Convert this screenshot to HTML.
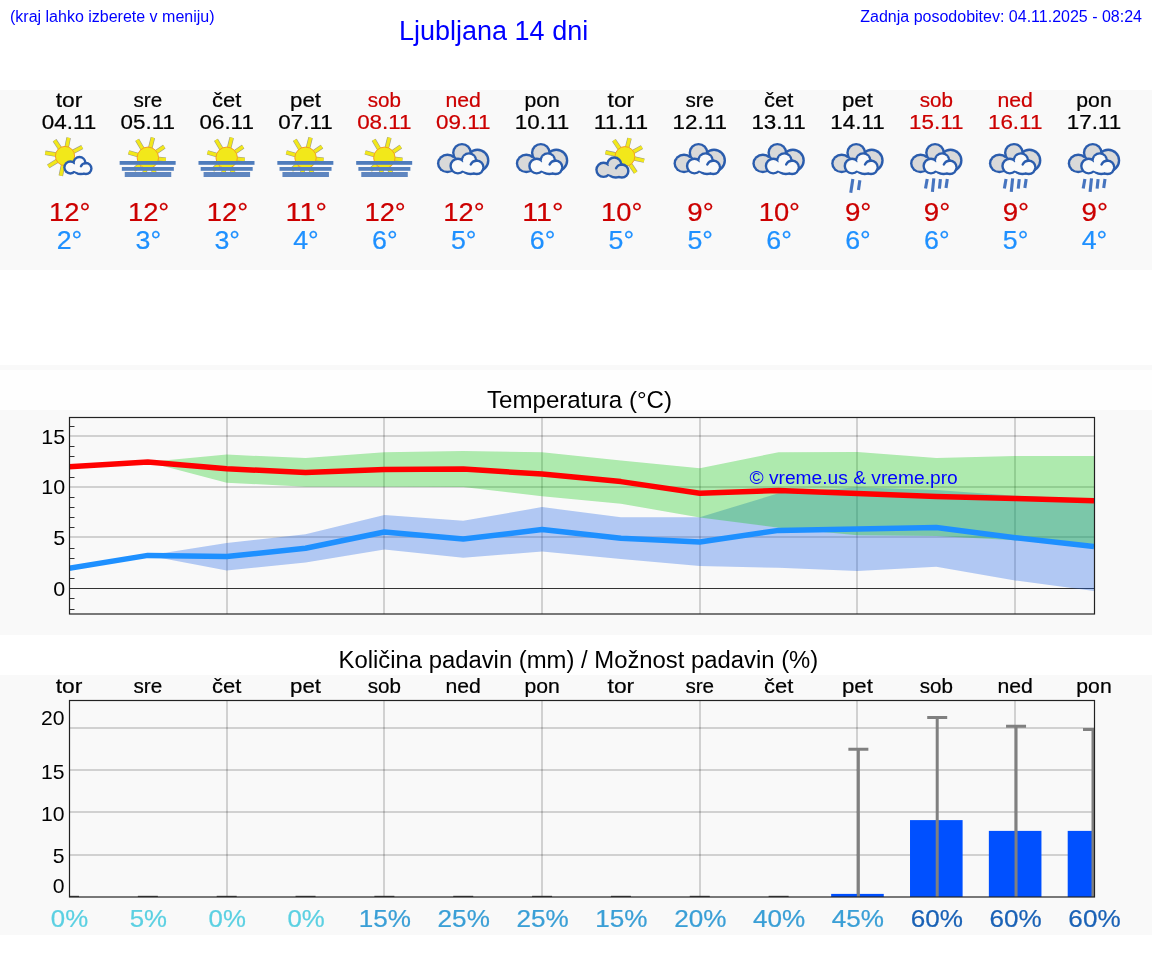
<!DOCTYPE html>
<html><head><meta charset="utf-8"><title>Ljubljana 14 dni</title>
<style>
html,body{margin:0;padding:0;background:#fff;width:1152px;height:975px;overflow:hidden}
svg{display:block;will-change:transform}
text{font-family:"Liberation Sans",sans-serif}
</style></head><body>
<svg width="1152" height="975" viewBox="0 0 1152 975">
<defs>
<clipPath id="cp1"><rect x="69.5" y="417.5" width="1024.5" height="196.5"/></clipPath>
<clipPath id="cp2"><rect x="69.5" y="700.5" width="1024.5" height="196.5"/></clipPath>
</defs>
<rect x="0" y="90" width="1152" height="180" fill="#f9f9f9"/>
<rect x="0" y="365" width="1152" height="5" fill="#f9f9f9"/>
<rect x="0" y="370" width="1152" height="40" fill="#fefefe"/>
<rect x="0" y="410" width="1152" height="225" fill="#f9f9f9"/>
<rect x="0" y="675" width="1152" height="260" fill="#f9f9f9"/>
<text x="10" y="21.5" font-size="16" fill="#0000ff">(kraj lahko izberete v meniju)</text>
<text x="399" y="39.5" font-size="27" fill="#0000ff">Ljubljana 14 dni</text>
<text x="1142" y="21.5" font-size="16" fill="#0000ff" text-anchor="end">Zadnja posodobitev: 04.11.2025 - 08:24</text>
<text x="69" y="106.8" font-size="19.8" fill="#000" stroke="#000" stroke-width="0.22" text-anchor="middle" textLength="26.61" lengthAdjust="spacingAndGlyphs">tor</text>
<text x="69" y="129" font-size="19.6" fill="#000" stroke="#000" stroke-width="0.22" text-anchor="middle" textLength="54.42" lengthAdjust="spacingAndGlyphs">04.11</text>
<text x="69.75" y="221" font-size="25" fill="#cc0000" stroke="#cc0000" stroke-width="0.22" text-anchor="middle" textLength="41.31" lengthAdjust="spacingAndGlyphs">12°</text>
<text x="69.5" y="248.6" font-size="25" fill="#1e90ff" stroke="#1e90ff" stroke-width="0.22" text-anchor="middle" textLength="25.56" lengthAdjust="spacingAndGlyphs">2°</text>
<text x="147.85" y="106.8" font-size="19.8" fill="#000" stroke="#000" stroke-width="0.22" text-anchor="middle" textLength="28.69" lengthAdjust="spacingAndGlyphs">sre</text>
<text x="147.85" y="129" font-size="19.6" fill="#000" stroke="#000" stroke-width="0.22" text-anchor="middle" textLength="54.42" lengthAdjust="spacingAndGlyphs">05.11</text>
<text x="148.6" y="221" font-size="25" fill="#cc0000" stroke="#cc0000" stroke-width="0.22" text-anchor="middle" textLength="41.31" lengthAdjust="spacingAndGlyphs">12°</text>
<text x="148.35" y="248.6" font-size="25" fill="#1e90ff" stroke="#1e90ff" stroke-width="0.22" text-anchor="middle" textLength="25.56" lengthAdjust="spacingAndGlyphs">3°</text>
<text x="226.69" y="106.8" font-size="19.8" fill="#000" stroke="#000" stroke-width="0.22" text-anchor="middle" textLength="29.27" lengthAdjust="spacingAndGlyphs">čet</text>
<text x="226.69" y="129" font-size="19.6" fill="#000" stroke="#000" stroke-width="0.22" text-anchor="middle" textLength="54.42" lengthAdjust="spacingAndGlyphs">06.11</text>
<text x="227.44" y="221" font-size="25" fill="#cc0000" stroke="#cc0000" stroke-width="0.22" text-anchor="middle" textLength="41.31" lengthAdjust="spacingAndGlyphs">12°</text>
<text x="227.19" y="248.6" font-size="25" fill="#1e90ff" stroke="#1e90ff" stroke-width="0.22" text-anchor="middle" textLength="25.56" lengthAdjust="spacingAndGlyphs">3°</text>
<text x="305.54" y="106.8" font-size="19.8" fill="#000" stroke="#000" stroke-width="0.22" text-anchor="middle" textLength="30.88" lengthAdjust="spacingAndGlyphs">pet</text>
<text x="305.54" y="129" font-size="19.6" fill="#000" stroke="#000" stroke-width="0.22" text-anchor="middle" textLength="54.42" lengthAdjust="spacingAndGlyphs">07.11</text>
<text x="306.29" y="221" font-size="25" fill="#cc0000" stroke="#cc0000" stroke-width="0.22" text-anchor="middle" textLength="41.31" lengthAdjust="spacingAndGlyphs">11°</text>
<text x="306.04" y="248.6" font-size="25" fill="#1e90ff" stroke="#1e90ff" stroke-width="0.22" text-anchor="middle" textLength="25.56" lengthAdjust="spacingAndGlyphs">4°</text>
<text x="384.38" y="106.8" font-size="19.8" fill="#cc0000" stroke="#cc0000" stroke-width="0.22" text-anchor="middle" textLength="33.23" lengthAdjust="spacingAndGlyphs">sob</text>
<text x="384.38" y="129" font-size="19.6" fill="#cc0000" stroke="#cc0000" stroke-width="0.22" text-anchor="middle" textLength="54.42" lengthAdjust="spacingAndGlyphs">08.11</text>
<text x="385.13" y="221" font-size="25" fill="#cc0000" stroke="#cc0000" stroke-width="0.22" text-anchor="middle" textLength="41.31" lengthAdjust="spacingAndGlyphs">12°</text>
<text x="384.88" y="248.6" font-size="25" fill="#1e90ff" stroke="#1e90ff" stroke-width="0.22" text-anchor="middle" textLength="25.56" lengthAdjust="spacingAndGlyphs">6°</text>
<text x="463.23" y="106.8" font-size="19.8" fill="#cc0000" stroke="#cc0000" stroke-width="0.22" text-anchor="middle" textLength="35.41" lengthAdjust="spacingAndGlyphs">ned</text>
<text x="463.23" y="129" font-size="19.6" fill="#cc0000" stroke="#cc0000" stroke-width="0.22" text-anchor="middle" textLength="54.42" lengthAdjust="spacingAndGlyphs">09.11</text>
<text x="463.98" y="221" font-size="25" fill="#cc0000" stroke="#cc0000" stroke-width="0.22" text-anchor="middle" textLength="41.31" lengthAdjust="spacingAndGlyphs">12°</text>
<text x="463.73" y="248.6" font-size="25" fill="#1e90ff" stroke="#1e90ff" stroke-width="0.22" text-anchor="middle" textLength="25.56" lengthAdjust="spacingAndGlyphs">5°</text>
<text x="542.08" y="106.8" font-size="19.8" fill="#000" stroke="#000" stroke-width="0.22" text-anchor="middle" textLength="35.34" lengthAdjust="spacingAndGlyphs">pon</text>
<text x="542.08" y="129" font-size="19.6" fill="#000" stroke="#000" stroke-width="0.22" text-anchor="middle" textLength="54.42" lengthAdjust="spacingAndGlyphs">10.11</text>
<text x="542.83" y="221" font-size="25" fill="#cc0000" stroke="#cc0000" stroke-width="0.22" text-anchor="middle" textLength="41.31" lengthAdjust="spacingAndGlyphs">11°</text>
<text x="542.58" y="248.6" font-size="25" fill="#1e90ff" stroke="#1e90ff" stroke-width="0.22" text-anchor="middle" textLength="25.56" lengthAdjust="spacingAndGlyphs">6°</text>
<text x="620.92" y="106.8" font-size="19.8" fill="#000" stroke="#000" stroke-width="0.22" text-anchor="middle" textLength="26.61" lengthAdjust="spacingAndGlyphs">tor</text>
<text x="620.92" y="129" font-size="19.6" fill="#000" stroke="#000" stroke-width="0.22" text-anchor="middle" textLength="54.42" lengthAdjust="spacingAndGlyphs">11.11</text>
<text x="621.67" y="221" font-size="25" fill="#cc0000" stroke="#cc0000" stroke-width="0.22" text-anchor="middle" textLength="41.31" lengthAdjust="spacingAndGlyphs">10°</text>
<text x="621.42" y="248.6" font-size="25" fill="#1e90ff" stroke="#1e90ff" stroke-width="0.22" text-anchor="middle" textLength="25.56" lengthAdjust="spacingAndGlyphs">5°</text>
<text x="699.77" y="106.8" font-size="19.8" fill="#000" stroke="#000" stroke-width="0.22" text-anchor="middle" textLength="28.69" lengthAdjust="spacingAndGlyphs">sre</text>
<text x="699.77" y="129" font-size="19.6" fill="#000" stroke="#000" stroke-width="0.22" text-anchor="middle" textLength="54.42" lengthAdjust="spacingAndGlyphs">12.11</text>
<text x="700.52" y="221" font-size="25" fill="#cc0000" stroke="#cc0000" stroke-width="0.22" text-anchor="middle" textLength="26.48" lengthAdjust="spacingAndGlyphs">9°</text>
<text x="700.27" y="248.6" font-size="25" fill="#1e90ff" stroke="#1e90ff" stroke-width="0.22" text-anchor="middle" textLength="25.56" lengthAdjust="spacingAndGlyphs">5°</text>
<text x="778.62" y="106.8" font-size="19.8" fill="#000" stroke="#000" stroke-width="0.22" text-anchor="middle" textLength="29.27" lengthAdjust="spacingAndGlyphs">čet</text>
<text x="778.62" y="129" font-size="19.6" fill="#000" stroke="#000" stroke-width="0.22" text-anchor="middle" textLength="54.42" lengthAdjust="spacingAndGlyphs">13.11</text>
<text x="779.37" y="221" font-size="25" fill="#cc0000" stroke="#cc0000" stroke-width="0.22" text-anchor="middle" textLength="41.31" lengthAdjust="spacingAndGlyphs">10°</text>
<text x="779.12" y="248.6" font-size="25" fill="#1e90ff" stroke="#1e90ff" stroke-width="0.22" text-anchor="middle" textLength="25.56" lengthAdjust="spacingAndGlyphs">6°</text>
<text x="857.46" y="106.8" font-size="19.8" fill="#000" stroke="#000" stroke-width="0.22" text-anchor="middle" textLength="30.88" lengthAdjust="spacingAndGlyphs">pet</text>
<text x="857.46" y="129" font-size="19.6" fill="#000" stroke="#000" stroke-width="0.22" text-anchor="middle" textLength="54.42" lengthAdjust="spacingAndGlyphs">14.11</text>
<text x="858.21" y="221" font-size="25" fill="#cc0000" stroke="#cc0000" stroke-width="0.22" text-anchor="middle" textLength="26.48" lengthAdjust="spacingAndGlyphs">9°</text>
<text x="857.96" y="248.6" font-size="25" fill="#1e90ff" stroke="#1e90ff" stroke-width="0.22" text-anchor="middle" textLength="25.56" lengthAdjust="spacingAndGlyphs">6°</text>
<text x="936.31" y="106.8" font-size="19.8" fill="#cc0000" stroke="#cc0000" stroke-width="0.22" text-anchor="middle" textLength="33.23" lengthAdjust="spacingAndGlyphs">sob</text>
<text x="936.31" y="129" font-size="19.6" fill="#cc0000" stroke="#cc0000" stroke-width="0.22" text-anchor="middle" textLength="54.42" lengthAdjust="spacingAndGlyphs">15.11</text>
<text x="937.06" y="221" font-size="25" fill="#cc0000" stroke="#cc0000" stroke-width="0.22" text-anchor="middle" textLength="26.48" lengthAdjust="spacingAndGlyphs">9°</text>
<text x="936.81" y="248.6" font-size="25" fill="#1e90ff" stroke="#1e90ff" stroke-width="0.22" text-anchor="middle" textLength="25.56" lengthAdjust="spacingAndGlyphs">6°</text>
<text x="1015.15" y="106.8" font-size="19.8" fill="#cc0000" stroke="#cc0000" stroke-width="0.22" text-anchor="middle" textLength="35.41" lengthAdjust="spacingAndGlyphs">ned</text>
<text x="1015.15" y="129" font-size="19.6" fill="#cc0000" stroke="#cc0000" stroke-width="0.22" text-anchor="middle" textLength="54.42" lengthAdjust="spacingAndGlyphs">16.11</text>
<text x="1015.9" y="221" font-size="25" fill="#cc0000" stroke="#cc0000" stroke-width="0.22" text-anchor="middle" textLength="26.48" lengthAdjust="spacingAndGlyphs">9°</text>
<text x="1015.65" y="248.6" font-size="25" fill="#1e90ff" stroke="#1e90ff" stroke-width="0.22" text-anchor="middle" textLength="25.56" lengthAdjust="spacingAndGlyphs">5°</text>
<text x="1094" y="106.8" font-size="19.8" fill="#000" stroke="#000" stroke-width="0.22" text-anchor="middle" textLength="35.34" lengthAdjust="spacingAndGlyphs">pon</text>
<text x="1094" y="129" font-size="19.6" fill="#000" stroke="#000" stroke-width="0.22" text-anchor="middle" textLength="54.42" lengthAdjust="spacingAndGlyphs">17.11</text>
<text x="1094.75" y="221" font-size="25" fill="#cc0000" stroke="#cc0000" stroke-width="0.22" text-anchor="middle" textLength="26.48" lengthAdjust="spacingAndGlyphs">9°</text>
<text x="1094.5" y="248.6" font-size="25" fill="#1e90ff" stroke="#1e90ff" stroke-width="0.22" text-anchor="middle" textLength="25.56" lengthAdjust="spacingAndGlyphs">4°</text>
<line x1="65" y1="156" x2="68.6" y2="137.7" stroke="#86866e" stroke-width="4.5" stroke-opacity="0.8"/><line x1="65" y1="156" x2="54.6" y2="140.3" stroke="#86866e" stroke-width="4.5" stroke-opacity="0.8"/><line x1="65" y1="156" x2="45.2" y2="152.8" stroke="#86866e" stroke-width="4.5" stroke-opacity="0.8"/><line x1="65" y1="156" x2="48.3" y2="166.4" stroke="#86866e" stroke-width="4.5" stroke-opacity="0.8"/><line x1="65" y1="156" x2="60.8" y2="175.75" stroke="#86866e" stroke-width="4.5" stroke-opacity="0.8"/><line x1="65" y1="156" x2="82.2" y2="147.1" stroke="#86866e" stroke-width="4.5" stroke-opacity="0.8"/><line x1="65" y1="156" x2="68.6" y2="137.7" stroke="#f2e81a" stroke-width="3.3"/><line x1="65" y1="156" x2="54.6" y2="140.3" stroke="#f2e81a" stroke-width="3.3"/><line x1="65" y1="156" x2="45.2" y2="152.8" stroke="#f2e81a" stroke-width="3.3"/><line x1="65" y1="156" x2="48.3" y2="166.4" stroke="#f2e81a" stroke-width="3.3"/><line x1="65" y1="156" x2="60.8" y2="175.75" stroke="#f2e81a" stroke-width="3.3"/><line x1="65" y1="156" x2="82.2" y2="147.1" stroke="#f2e81a" stroke-width="3.3"/><circle cx="65" cy="156" r="9.6" fill="#f2e81a" stroke="#f5a020" stroke-width="1"/>
<g transform="translate(77.85 165.7) scale(0.82)"><circle cx="-9.1" cy="2.15" r="8.76" fill="#2a5cad"/><circle cx="2" cy="-3.35" r="8.66" fill="#2a5cad"/><circle cx="9.8" cy="3.35" r="8.16" fill="#2a5cad"/><ellipse cx="3.5" cy="5.2" rx="8.96" ry="6.36" fill="#2a5cad"/><circle cx="-9.1" cy="2.15" r="5.84" fill="#fafafa"/><circle cx="2" cy="-3.35" r="5.74" fill="#fafafa"/><circle cx="9.8" cy="3.35" r="5.24" fill="#fafafa"/><ellipse cx="3.5" cy="5.2" rx="6.04" ry="3.44" fill="#fafafa"/><ellipse cx="1.5" cy="2.5" rx="9.5" ry="5.2" fill="#fafafa"/><path d="M3.8 0.55A6.6 6.6 0 0 1 10.2 -3.15" fill="none" stroke="#2a5cad" stroke-width="2.93" stroke-linecap="round"/></g>
<line x1="147.85" y1="157.8" x2="152.85" y2="137.6" stroke="#86866e" stroke-width="4.5" stroke-opacity="0.8"/><line x1="147.85" y1="157.8" x2="137.15" y2="139.9" stroke="#86866e" stroke-width="4.5" stroke-opacity="0.8"/><line x1="147.85" y1="157.8" x2="128.65" y2="152.3" stroke="#86866e" stroke-width="4.5" stroke-opacity="0.8"/><line x1="147.85" y1="157.8" x2="164.25" y2="146.7" stroke="#86866e" stroke-width="4.5" stroke-opacity="0.8"/><line x1="147.85" y1="157.8" x2="165.85" y2="159.7" stroke="#86866e" stroke-width="4.5" stroke-opacity="0.8"/><line x1="147.85" y1="157.8" x2="133.85" y2="170" stroke="#86866e" stroke-width="4.5" stroke-opacity="0.8"/><line x1="147.85" y1="157.8" x2="155.85" y2="176" stroke="#86866e" stroke-width="4.5" stroke-opacity="0.8"/><line x1="147.85" y1="157.8" x2="143.85" y2="176" stroke="#86866e" stroke-width="4.5" stroke-opacity="0.8"/><line x1="147.85" y1="157.8" x2="152.85" y2="137.6" stroke="#f2e81a" stroke-width="3.3"/><line x1="147.85" y1="157.8" x2="137.15" y2="139.9" stroke="#f2e81a" stroke-width="3.3"/><line x1="147.85" y1="157.8" x2="128.65" y2="152.3" stroke="#f2e81a" stroke-width="3.3"/><line x1="147.85" y1="157.8" x2="164.25" y2="146.7" stroke="#f2e81a" stroke-width="3.3"/><line x1="147.85" y1="157.8" x2="165.85" y2="159.7" stroke="#f2e81a" stroke-width="3.3"/><line x1="147.85" y1="157.8" x2="133.85" y2="170" stroke="#f2e81a" stroke-width="3.3"/><line x1="147.85" y1="157.8" x2="155.85" y2="176" stroke="#f2e81a" stroke-width="3.3"/><line x1="147.85" y1="157.8" x2="143.85" y2="176" stroke="#f2e81a" stroke-width="3.3"/><circle cx="147.85" cy="157.8" r="10.7" fill="#f2e81a" stroke="#f5a020" stroke-width="1"/><rect x="119.65" y="161" width="56" height="3.8" fill="#4f7cbc"/><rect x="121.85" y="167" width="52" height="3.8" fill="#5580be"/><rect x="124.75" y="172" width="46.5" height="5" fill="#5f86c0"/>
<line x1="226.69" y1="157.8" x2="231.69" y2="137.6" stroke="#86866e" stroke-width="4.5" stroke-opacity="0.8"/><line x1="226.69" y1="157.8" x2="215.99" y2="139.9" stroke="#86866e" stroke-width="4.5" stroke-opacity="0.8"/><line x1="226.69" y1="157.8" x2="207.49" y2="152.3" stroke="#86866e" stroke-width="4.5" stroke-opacity="0.8"/><line x1="226.69" y1="157.8" x2="243.09" y2="146.7" stroke="#86866e" stroke-width="4.5" stroke-opacity="0.8"/><line x1="226.69" y1="157.8" x2="244.69" y2="159.7" stroke="#86866e" stroke-width="4.5" stroke-opacity="0.8"/><line x1="226.69" y1="157.8" x2="212.69" y2="170" stroke="#86866e" stroke-width="4.5" stroke-opacity="0.8"/><line x1="226.69" y1="157.8" x2="234.69" y2="176" stroke="#86866e" stroke-width="4.5" stroke-opacity="0.8"/><line x1="226.69" y1="157.8" x2="222.69" y2="176" stroke="#86866e" stroke-width="4.5" stroke-opacity="0.8"/><line x1="226.69" y1="157.8" x2="231.69" y2="137.6" stroke="#f2e81a" stroke-width="3.3"/><line x1="226.69" y1="157.8" x2="215.99" y2="139.9" stroke="#f2e81a" stroke-width="3.3"/><line x1="226.69" y1="157.8" x2="207.49" y2="152.3" stroke="#f2e81a" stroke-width="3.3"/><line x1="226.69" y1="157.8" x2="243.09" y2="146.7" stroke="#f2e81a" stroke-width="3.3"/><line x1="226.69" y1="157.8" x2="244.69" y2="159.7" stroke="#f2e81a" stroke-width="3.3"/><line x1="226.69" y1="157.8" x2="212.69" y2="170" stroke="#f2e81a" stroke-width="3.3"/><line x1="226.69" y1="157.8" x2="234.69" y2="176" stroke="#f2e81a" stroke-width="3.3"/><line x1="226.69" y1="157.8" x2="222.69" y2="176" stroke="#f2e81a" stroke-width="3.3"/><circle cx="226.69" cy="157.8" r="10.7" fill="#f2e81a" stroke="#f5a020" stroke-width="1"/><rect x="198.49" y="161" width="56" height="3.8" fill="#4f7cbc"/><rect x="200.69" y="167" width="52" height="3.8" fill="#5580be"/><rect x="203.59" y="172" width="46.5" height="5" fill="#5f86c0"/>
<line x1="305.54" y1="157.8" x2="310.54" y2="137.6" stroke="#86866e" stroke-width="4.5" stroke-opacity="0.8"/><line x1="305.54" y1="157.8" x2="294.84" y2="139.9" stroke="#86866e" stroke-width="4.5" stroke-opacity="0.8"/><line x1="305.54" y1="157.8" x2="286.34" y2="152.3" stroke="#86866e" stroke-width="4.5" stroke-opacity="0.8"/><line x1="305.54" y1="157.8" x2="321.94" y2="146.7" stroke="#86866e" stroke-width="4.5" stroke-opacity="0.8"/><line x1="305.54" y1="157.8" x2="323.54" y2="159.7" stroke="#86866e" stroke-width="4.5" stroke-opacity="0.8"/><line x1="305.54" y1="157.8" x2="291.54" y2="170" stroke="#86866e" stroke-width="4.5" stroke-opacity="0.8"/><line x1="305.54" y1="157.8" x2="313.54" y2="176" stroke="#86866e" stroke-width="4.5" stroke-opacity="0.8"/><line x1="305.54" y1="157.8" x2="301.54" y2="176" stroke="#86866e" stroke-width="4.5" stroke-opacity="0.8"/><line x1="305.54" y1="157.8" x2="310.54" y2="137.6" stroke="#f2e81a" stroke-width="3.3"/><line x1="305.54" y1="157.8" x2="294.84" y2="139.9" stroke="#f2e81a" stroke-width="3.3"/><line x1="305.54" y1="157.8" x2="286.34" y2="152.3" stroke="#f2e81a" stroke-width="3.3"/><line x1="305.54" y1="157.8" x2="321.94" y2="146.7" stroke="#f2e81a" stroke-width="3.3"/><line x1="305.54" y1="157.8" x2="323.54" y2="159.7" stroke="#f2e81a" stroke-width="3.3"/><line x1="305.54" y1="157.8" x2="291.54" y2="170" stroke="#f2e81a" stroke-width="3.3"/><line x1="305.54" y1="157.8" x2="313.54" y2="176" stroke="#f2e81a" stroke-width="3.3"/><line x1="305.54" y1="157.8" x2="301.54" y2="176" stroke="#f2e81a" stroke-width="3.3"/><circle cx="305.54" cy="157.8" r="10.7" fill="#f2e81a" stroke="#f5a020" stroke-width="1"/><rect x="277.34" y="161" width="56" height="3.8" fill="#4f7cbc"/><rect x="279.54" y="167" width="52" height="3.8" fill="#5580be"/><rect x="282.44" y="172" width="46.5" height="5" fill="#5f86c0"/>
<line x1="384.38" y1="157.8" x2="389.38" y2="137.6" stroke="#86866e" stroke-width="4.5" stroke-opacity="0.8"/><line x1="384.38" y1="157.8" x2="373.68" y2="139.9" stroke="#86866e" stroke-width="4.5" stroke-opacity="0.8"/><line x1="384.38" y1="157.8" x2="365.18" y2="152.3" stroke="#86866e" stroke-width="4.5" stroke-opacity="0.8"/><line x1="384.38" y1="157.8" x2="400.78" y2="146.7" stroke="#86866e" stroke-width="4.5" stroke-opacity="0.8"/><line x1="384.38" y1="157.8" x2="402.38" y2="159.7" stroke="#86866e" stroke-width="4.5" stroke-opacity="0.8"/><line x1="384.38" y1="157.8" x2="370.38" y2="170" stroke="#86866e" stroke-width="4.5" stroke-opacity="0.8"/><line x1="384.38" y1="157.8" x2="392.38" y2="176" stroke="#86866e" stroke-width="4.5" stroke-opacity="0.8"/><line x1="384.38" y1="157.8" x2="380.38" y2="176" stroke="#86866e" stroke-width="4.5" stroke-opacity="0.8"/><line x1="384.38" y1="157.8" x2="389.38" y2="137.6" stroke="#f2e81a" stroke-width="3.3"/><line x1="384.38" y1="157.8" x2="373.68" y2="139.9" stroke="#f2e81a" stroke-width="3.3"/><line x1="384.38" y1="157.8" x2="365.18" y2="152.3" stroke="#f2e81a" stroke-width="3.3"/><line x1="384.38" y1="157.8" x2="400.78" y2="146.7" stroke="#f2e81a" stroke-width="3.3"/><line x1="384.38" y1="157.8" x2="402.38" y2="159.7" stroke="#f2e81a" stroke-width="3.3"/><line x1="384.38" y1="157.8" x2="370.38" y2="170" stroke="#f2e81a" stroke-width="3.3"/><line x1="384.38" y1="157.8" x2="392.38" y2="176" stroke="#f2e81a" stroke-width="3.3"/><line x1="384.38" y1="157.8" x2="380.38" y2="176" stroke="#f2e81a" stroke-width="3.3"/><circle cx="384.38" cy="157.8" r="10.7" fill="#f2e81a" stroke="#f5a020" stroke-width="1"/><rect x="356.18" y="161" width="56" height="3.8" fill="#4f7cbc"/><rect x="358.38" y="167" width="52" height="3.8" fill="#5580be"/><rect x="361.28" y="172" width="46.5" height="5" fill="#5f86c0"/>
<g transform="translate(466.96 163.95)"><ellipse cx="-19.5" cy="-0.55" rx="10.5" ry="9.8" fill="#2a5cad"/><circle cx="-5" cy="-11.15" r="9.9" fill="#2a5cad"/><circle cx="10.5" cy="-3.45" r="12" fill="#2a5cad"/><ellipse cx="-19.5" cy="-0.55" rx="8.1" ry="7.4" fill="#d9d9d9"/><circle cx="-5" cy="-11.15" r="7.5" fill="#d9d9d9"/><circle cx="10.5" cy="-3.45" r="9.6" fill="#d9d9d9"/><rect x="-20" y="-6" width="31" height="10" fill="#d9d9d9"/></g><g transform="translate(466.96 163.95) scale(1)"><circle cx="-9.1" cy="2.15" r="8.5" fill="#2a5cad"/><circle cx="2" cy="-3.35" r="8.4" fill="#2a5cad"/><circle cx="9.8" cy="3.35" r="7.9" fill="#2a5cad"/><ellipse cx="3.5" cy="5.2" rx="8.7" ry="6.1" fill="#2a5cad"/><circle cx="-9.1" cy="2.15" r="6.1" fill="#fafafa"/><circle cx="2" cy="-3.35" r="6" fill="#fafafa"/><circle cx="9.8" cy="3.35" r="5.5" fill="#fafafa"/><ellipse cx="3.5" cy="5.2" rx="6.3" ry="3.7" fill="#fafafa"/><ellipse cx="1.5" cy="2.5" rx="9.5" ry="5.2" fill="#fafafa"/><path d="M3.8 0.55A6.6 6.6 0 0 1 10.2 -3.15" fill="none" stroke="#2a5cad" stroke-width="2.4" stroke-linecap="round"/></g>
<g transform="translate(545.81 163.95)"><ellipse cx="-19.5" cy="-0.55" rx="10.5" ry="9.8" fill="#2a5cad"/><circle cx="-5" cy="-11.15" r="9.9" fill="#2a5cad"/><circle cx="10.5" cy="-3.45" r="12" fill="#2a5cad"/><ellipse cx="-19.5" cy="-0.55" rx="8.1" ry="7.4" fill="#d9d9d9"/><circle cx="-5" cy="-11.15" r="7.5" fill="#d9d9d9"/><circle cx="10.5" cy="-3.45" r="9.6" fill="#d9d9d9"/><rect x="-20" y="-6" width="31" height="10" fill="#d9d9d9"/></g><g transform="translate(545.81 163.95) scale(1)"><circle cx="-9.1" cy="2.15" r="8.5" fill="#2a5cad"/><circle cx="2" cy="-3.35" r="8.4" fill="#2a5cad"/><circle cx="9.8" cy="3.35" r="7.9" fill="#2a5cad"/><ellipse cx="3.5" cy="5.2" rx="8.7" ry="6.1" fill="#2a5cad"/><circle cx="-9.1" cy="2.15" r="6.1" fill="#fafafa"/><circle cx="2" cy="-3.35" r="6" fill="#fafafa"/><circle cx="9.8" cy="3.35" r="5.5" fill="#fafafa"/><ellipse cx="3.5" cy="5.2" rx="6.3" ry="3.7" fill="#fafafa"/><ellipse cx="1.5" cy="2.5" rx="9.5" ry="5.2" fill="#fafafa"/><path d="M3.8 0.55A6.6 6.6 0 0 1 10.2 -3.15" fill="none" stroke="#2a5cad" stroke-width="2.4" stroke-linecap="round"/></g>
<line x1="624.92" y1="156.5" x2="629.52" y2="138.25" stroke="#86866e" stroke-width="4.5" stroke-opacity="0.8"/><line x1="624.92" y1="156.5" x2="613.92" y2="140.3" stroke="#86866e" stroke-width="4.5" stroke-opacity="0.8"/><line x1="624.92" y1="156.5" x2="605.52" y2="152.3" stroke="#86866e" stroke-width="4.5" stroke-opacity="0.8"/><line x1="624.92" y1="156.5" x2="641.92" y2="147.1" stroke="#86866e" stroke-width="4.5" stroke-opacity="0.8"/><line x1="624.92" y1="156.5" x2="644.12" y2="160.6" stroke="#86866e" stroke-width="4.5" stroke-opacity="0.8"/><line x1="624.92" y1="156.5" x2="635.72" y2="172.6" stroke="#86866e" stroke-width="4.5" stroke-opacity="0.8"/><line x1="624.92" y1="156.5" x2="629.52" y2="138.25" stroke="#f2e81a" stroke-width="3.3"/><line x1="624.92" y1="156.5" x2="613.92" y2="140.3" stroke="#f2e81a" stroke-width="3.3"/><line x1="624.92" y1="156.5" x2="605.52" y2="152.3" stroke="#f2e81a" stroke-width="3.3"/><line x1="624.92" y1="156.5" x2="641.92" y2="147.1" stroke="#f2e81a" stroke-width="3.3"/><line x1="624.92" y1="156.5" x2="644.12" y2="160.6" stroke="#f2e81a" stroke-width="3.3"/><line x1="624.92" y1="156.5" x2="635.72" y2="172.6" stroke="#f2e81a" stroke-width="3.3"/><circle cx="624.92" cy="156.5" r="9.9" fill="#f2e81a" stroke="#f5a020" stroke-width="1"/>
<g transform="translate(612.35 167.75) scale(0.97)"><circle cx="-9.1" cy="2.15" r="8.54" fill="#2a5cad"/><circle cx="2" cy="-3.35" r="8.44" fill="#2a5cad"/><circle cx="9.8" cy="3.35" r="7.94" fill="#2a5cad"/><ellipse cx="3.5" cy="5.2" rx="8.74" ry="6.14" fill="#2a5cad"/><circle cx="-9.1" cy="2.15" r="6.06" fill="#d9d9d9"/><circle cx="2" cy="-3.35" r="5.96" fill="#d9d9d9"/><circle cx="9.8" cy="3.35" r="5.46" fill="#d9d9d9"/><ellipse cx="3.5" cy="5.2" rx="6.26" ry="3.66" fill="#d9d9d9"/><ellipse cx="1.5" cy="2.5" rx="9.5" ry="5.2" fill="#d9d9d9"/><path d="M3.8 0.55A6.6 6.6 0 0 1 10.2 -3.15" fill="none" stroke="#2a5cad" stroke-width="2.47" stroke-linecap="round"/></g>
<g transform="translate(703.5 163.95)"><ellipse cx="-19.5" cy="-0.55" rx="10.5" ry="9.8" fill="#2a5cad"/><circle cx="-5" cy="-11.15" r="9.9" fill="#2a5cad"/><circle cx="10.5" cy="-3.45" r="12" fill="#2a5cad"/><ellipse cx="-19.5" cy="-0.55" rx="8.1" ry="7.4" fill="#d9d9d9"/><circle cx="-5" cy="-11.15" r="7.5" fill="#d9d9d9"/><circle cx="10.5" cy="-3.45" r="9.6" fill="#d9d9d9"/><rect x="-20" y="-6" width="31" height="10" fill="#d9d9d9"/></g><g transform="translate(703.5 163.95) scale(1)"><circle cx="-9.1" cy="2.15" r="8.5" fill="#2a5cad"/><circle cx="2" cy="-3.35" r="8.4" fill="#2a5cad"/><circle cx="9.8" cy="3.35" r="7.9" fill="#2a5cad"/><ellipse cx="3.5" cy="5.2" rx="8.7" ry="6.1" fill="#2a5cad"/><circle cx="-9.1" cy="2.15" r="6.1" fill="#fafafa"/><circle cx="2" cy="-3.35" r="6" fill="#fafafa"/><circle cx="9.8" cy="3.35" r="5.5" fill="#fafafa"/><ellipse cx="3.5" cy="5.2" rx="6.3" ry="3.7" fill="#fafafa"/><ellipse cx="1.5" cy="2.5" rx="9.5" ry="5.2" fill="#fafafa"/><path d="M3.8 0.55A6.6 6.6 0 0 1 10.2 -3.15" fill="none" stroke="#2a5cad" stroke-width="2.4" stroke-linecap="round"/></g>
<g transform="translate(782.35 163.95)"><ellipse cx="-19.5" cy="-0.55" rx="10.5" ry="9.8" fill="#2a5cad"/><circle cx="-5" cy="-11.15" r="9.9" fill="#2a5cad"/><circle cx="10.5" cy="-3.45" r="12" fill="#2a5cad"/><ellipse cx="-19.5" cy="-0.55" rx="8.1" ry="7.4" fill="#d9d9d9"/><circle cx="-5" cy="-11.15" r="7.5" fill="#d9d9d9"/><circle cx="10.5" cy="-3.45" r="9.6" fill="#d9d9d9"/><rect x="-20" y="-6" width="31" height="10" fill="#d9d9d9"/></g><g transform="translate(782.35 163.95) scale(1)"><circle cx="-9.1" cy="2.15" r="8.5" fill="#2a5cad"/><circle cx="2" cy="-3.35" r="8.4" fill="#2a5cad"/><circle cx="9.8" cy="3.35" r="7.9" fill="#2a5cad"/><ellipse cx="3.5" cy="5.2" rx="8.7" ry="6.1" fill="#2a5cad"/><circle cx="-9.1" cy="2.15" r="6.1" fill="#fafafa"/><circle cx="2" cy="-3.35" r="6" fill="#fafafa"/><circle cx="9.8" cy="3.35" r="5.5" fill="#fafafa"/><ellipse cx="3.5" cy="5.2" rx="6.3" ry="3.7" fill="#fafafa"/><ellipse cx="1.5" cy="2.5" rx="9.5" ry="5.2" fill="#fafafa"/><path d="M3.8 0.55A6.6 6.6 0 0 1 10.2 -3.15" fill="none" stroke="#2a5cad" stroke-width="2.4" stroke-linecap="round"/></g>
<g transform="translate(861.19 163.95)"><ellipse cx="-19.5" cy="-0.55" rx="10.5" ry="9.8" fill="#2a5cad"/><circle cx="-5" cy="-11.15" r="9.9" fill="#2a5cad"/><circle cx="10.5" cy="-3.45" r="12" fill="#2a5cad"/><ellipse cx="-19.5" cy="-0.55" rx="8.1" ry="7.4" fill="#d9d9d9"/><circle cx="-5" cy="-11.15" r="7.5" fill="#d9d9d9"/><circle cx="10.5" cy="-3.45" r="9.6" fill="#d9d9d9"/><rect x="-20" y="-6" width="31" height="10" fill="#d9d9d9"/></g><g transform="translate(861.19 163.95) scale(1)"><circle cx="-9.1" cy="2.15" r="8.5" fill="#2a5cad"/><circle cx="2" cy="-3.35" r="8.4" fill="#2a5cad"/><circle cx="9.8" cy="3.35" r="7.9" fill="#2a5cad"/><ellipse cx="3.5" cy="5.2" rx="8.7" ry="6.1" fill="#2a5cad"/><circle cx="-9.1" cy="2.15" r="6.1" fill="#fafafa"/><circle cx="2" cy="-3.35" r="6" fill="#fafafa"/><circle cx="9.8" cy="3.35" r="5.5" fill="#fafafa"/><ellipse cx="3.5" cy="5.2" rx="6.3" ry="3.7" fill="#fafafa"/><ellipse cx="1.5" cy="2.5" rx="9.5" ry="5.2" fill="#fafafa"/><path d="M3.8 0.55A6.6 6.6 0 0 1 10.2 -3.15" fill="none" stroke="#2a5cad" stroke-width="2.4" stroke-linecap="round"/></g><line x1="852.86" y1="179.1" x2="850.76" y2="192.8" stroke="#4674bf" stroke-width="3.1"/><line x1="859.86" y1="180.2" x2="858.46" y2="190" stroke="#4674bf" stroke-width="3.1"/>
<g transform="translate(940.04 163.95)"><ellipse cx="-19.5" cy="-0.55" rx="10.5" ry="9.8" fill="#2a5cad"/><circle cx="-5" cy="-11.15" r="9.9" fill="#2a5cad"/><circle cx="10.5" cy="-3.45" r="12" fill="#2a5cad"/><ellipse cx="-19.5" cy="-0.55" rx="8.1" ry="7.4" fill="#d9d9d9"/><circle cx="-5" cy="-11.15" r="7.5" fill="#d9d9d9"/><circle cx="10.5" cy="-3.45" r="9.6" fill="#d9d9d9"/><rect x="-20" y="-6" width="31" height="10" fill="#d9d9d9"/></g><g transform="translate(940.04 163.95) scale(1)"><circle cx="-9.1" cy="2.15" r="8.5" fill="#2a5cad"/><circle cx="2" cy="-3.35" r="8.4" fill="#2a5cad"/><circle cx="9.8" cy="3.35" r="7.9" fill="#2a5cad"/><ellipse cx="3.5" cy="5.2" rx="8.7" ry="6.1" fill="#2a5cad"/><circle cx="-9.1" cy="2.15" r="6.1" fill="#fafafa"/><circle cx="2" cy="-3.35" r="6" fill="#fafafa"/><circle cx="9.8" cy="3.35" r="5.5" fill="#fafafa"/><ellipse cx="3.5" cy="5.2" rx="6.3" ry="3.7" fill="#fafafa"/><ellipse cx="1.5" cy="2.5" rx="9.5" ry="5.2" fill="#fafafa"/><path d="M3.8 0.55A6.6 6.6 0 0 1 10.2 -3.15" fill="none" stroke="#2a5cad" stroke-width="2.4" stroke-linecap="round"/></g><line x1="927.21" y1="179.1" x2="925.51" y2="188.6" stroke="#4674bf" stroke-width="3.1"/><line x1="933.81" y1="178.4" x2="932.41" y2="191.8" stroke="#4674bf" stroke-width="3.1"/><line x1="940.41" y1="179.1" x2="939.41" y2="188.6" stroke="#4674bf" stroke-width="3.1"/><line x1="947.31" y1="179.1" x2="946.01" y2="187.95" stroke="#4674bf" stroke-width="3.1"/>
<g transform="translate(1018.88 163.95)"><ellipse cx="-19.5" cy="-0.55" rx="10.5" ry="9.8" fill="#2a5cad"/><circle cx="-5" cy="-11.15" r="9.9" fill="#2a5cad"/><circle cx="10.5" cy="-3.45" r="12" fill="#2a5cad"/><ellipse cx="-19.5" cy="-0.55" rx="8.1" ry="7.4" fill="#d9d9d9"/><circle cx="-5" cy="-11.15" r="7.5" fill="#d9d9d9"/><circle cx="10.5" cy="-3.45" r="9.6" fill="#d9d9d9"/><rect x="-20" y="-6" width="31" height="10" fill="#d9d9d9"/></g><g transform="translate(1018.88 163.95) scale(1)"><circle cx="-9.1" cy="2.15" r="8.5" fill="#2a5cad"/><circle cx="2" cy="-3.35" r="8.4" fill="#2a5cad"/><circle cx="9.8" cy="3.35" r="7.9" fill="#2a5cad"/><ellipse cx="3.5" cy="5.2" rx="8.7" ry="6.1" fill="#2a5cad"/><circle cx="-9.1" cy="2.15" r="6.1" fill="#fafafa"/><circle cx="2" cy="-3.35" r="6" fill="#fafafa"/><circle cx="9.8" cy="3.35" r="5.5" fill="#fafafa"/><ellipse cx="3.5" cy="5.2" rx="6.3" ry="3.7" fill="#fafafa"/><ellipse cx="1.5" cy="2.5" rx="9.5" ry="5.2" fill="#fafafa"/><path d="M3.8 0.55A6.6 6.6 0 0 1 10.2 -3.15" fill="none" stroke="#2a5cad" stroke-width="2.4" stroke-linecap="round"/></g><line x1="1006.05" y1="179.1" x2="1004.35" y2="188.6" stroke="#4674bf" stroke-width="3.1"/><line x1="1012.65" y1="178.4" x2="1011.25" y2="191.8" stroke="#4674bf" stroke-width="3.1"/><line x1="1019.25" y1="179.1" x2="1018.25" y2="188.6" stroke="#4674bf" stroke-width="3.1"/><line x1="1026.15" y1="179.1" x2="1024.85" y2="187.95" stroke="#4674bf" stroke-width="3.1"/>
<g transform="translate(1097.73 163.95)"><ellipse cx="-19.5" cy="-0.55" rx="10.5" ry="9.8" fill="#2a5cad"/><circle cx="-5" cy="-11.15" r="9.9" fill="#2a5cad"/><circle cx="10.5" cy="-3.45" r="12" fill="#2a5cad"/><ellipse cx="-19.5" cy="-0.55" rx="8.1" ry="7.4" fill="#d9d9d9"/><circle cx="-5" cy="-11.15" r="7.5" fill="#d9d9d9"/><circle cx="10.5" cy="-3.45" r="9.6" fill="#d9d9d9"/><rect x="-20" y="-6" width="31" height="10" fill="#d9d9d9"/></g><g transform="translate(1097.73 163.95) scale(1)"><circle cx="-9.1" cy="2.15" r="8.5" fill="#2a5cad"/><circle cx="2" cy="-3.35" r="8.4" fill="#2a5cad"/><circle cx="9.8" cy="3.35" r="7.9" fill="#2a5cad"/><ellipse cx="3.5" cy="5.2" rx="8.7" ry="6.1" fill="#2a5cad"/><circle cx="-9.1" cy="2.15" r="6.1" fill="#fafafa"/><circle cx="2" cy="-3.35" r="6" fill="#fafafa"/><circle cx="9.8" cy="3.35" r="5.5" fill="#fafafa"/><ellipse cx="3.5" cy="5.2" rx="6.3" ry="3.7" fill="#fafafa"/><ellipse cx="1.5" cy="2.5" rx="9.5" ry="5.2" fill="#fafafa"/><path d="M3.8 0.55A6.6 6.6 0 0 1 10.2 -3.15" fill="none" stroke="#2a5cad" stroke-width="2.4" stroke-linecap="round"/></g><line x1="1084.9" y1="179.1" x2="1083.2" y2="188.6" stroke="#4674bf" stroke-width="3.1"/><line x1="1091.5" y1="178.4" x2="1090.1" y2="191.8" stroke="#4674bf" stroke-width="3.1"/><line x1="1098.1" y1="179.1" x2="1097.1" y2="188.6" stroke="#4674bf" stroke-width="3.1"/><line x1="1105" y1="179.1" x2="1103.7" y2="187.95" stroke="#4674bf" stroke-width="3.1"/>
<text x="579.5" y="407.7" font-size="24.1" fill="#000" text-anchor="middle">Temperatura (°C)</text>
<line x1="69.5" y1="436" x2="1094" y2="436" stroke="#000" stroke-opacity="0.16" stroke-width="2"/><line x1="69.5" y1="487" x2="1094" y2="487" stroke="#000" stroke-opacity="0.16" stroke-width="2"/><line x1="69.5" y1="537" x2="1094" y2="537" stroke="#000" stroke-opacity="0.16" stroke-width="2"/><line x1="227" y1="417.5" x2="227" y2="614" stroke="#000" stroke-opacity="0.16" stroke-width="2"/><line x1="384" y1="417.5" x2="384" y2="614" stroke="#000" stroke-opacity="0.16" stroke-width="2"/><line x1="542" y1="417.5" x2="542" y2="614" stroke="#000" stroke-opacity="0.16" stroke-width="2"/><line x1="700" y1="417.5" x2="700" y2="614" stroke="#000" stroke-opacity="0.16" stroke-width="2"/><line x1="857" y1="417.5" x2="857" y2="614" stroke="#000" stroke-opacity="0.16" stroke-width="2"/><line x1="1015" y1="417.5" x2="1015" y2="614" stroke="#000" stroke-opacity="0.16" stroke-width="2"/>
<line x1="69.5" y1="588.5" x2="1094" y2="588.5" stroke="#333" stroke-width="1.2"/>
<path d="M69.5 426.5 h5 M69.5 446.5 h5 M69.5 456.5 h5 M69.5 466.5 h5 M69.5 477.5 h5 M69.5 497.5 h5 M69.5 507.5 h5 M69.5 517.5 h5 M69.5 527.5 h5 M69.5 548.5 h5 M69.5 558.5 h5 M69.5 568.5 h5 M69.5 578.5 h5 M69.5 598.5 h5 M69.5 609.5 h5" stroke="#333" stroke-width="1.2"/>
<g clip-path="url(#cp1)">
<polygon points="69,568.3 147.85,555.4 226.69,543 305.54,534.3 384.38,515 463.23,520.7 542.08,507.1 620.92,517.2 699.77,517.2 778.62,493.3 857.46,487.2 936.31,490 1015.15,495.8 1094,499 1094,590.9 1015.15,580.5 936.31,566.7 857.46,571 778.62,567.8 699.77,565.9 620.92,558.9 542.08,551.6 463.23,557.7 384.38,549.5 305.54,562.4 226.69,570.6 147.85,555.4 69,568.3" fill="#1e64e6" fill-opacity="0.33"/>
<polygon points="69,466.8 147.85,462.1 226.69,454.6 305.54,458.1 384.38,452.3 463.23,451.1 542.08,452.3 620.92,460.5 699.77,468.2 778.62,452.2 857.46,452.1 936.31,458 1015.15,456 1094,456 1094,544 1015.15,540.3 936.31,536 857.46,535.3 778.62,527.7 699.77,517.4 620.92,503.8 542.08,496.3 463.23,487 384.38,486.7 305.54,486.7 226.69,482.7 147.85,462.1 69,466.8" fill="#00c800" fill-opacity="0.3"/>
<polyline points="69,466.8 147.85,462.1 226.69,468.7 305.54,472.6 384.38,469.4 463.23,469.1 542.08,474 620.92,481.6 699.77,493.3 778.62,490.5 857.46,493.5 936.31,496.4 1015.15,498.5 1094,500.8" fill="none" stroke="#ff0000" stroke-width="5.5" stroke-linejoin="round"/>
<polyline points="69,568.3 147.85,555.4 226.69,556.6 305.54,548.3 384.38,532 463.23,539 542.08,529.6 620.92,538.3 699.77,542 778.62,530.4 857.46,528.9 936.31,527.4 1015.15,537.7 1094,546.6" fill="none" stroke="#1e90ff" stroke-width="5.5" stroke-linejoin="round"/>
</g>
<text x="749.5" y="483.6" font-size="19.2" fill="#0000ff">© vreme.us &amp; vreme.pro</text>
<rect x="69.5" y="417.5" width="1025" height="196.5" fill="none" stroke="#222" stroke-width="1.2"/>
<text x="65.3" y="443.55" font-size="21" fill="#000" text-anchor="end" textLength="23.91" lengthAdjust="spacingAndGlyphs">15</text>
<text x="65.3" y="494.3" font-size="21" fill="#000" text-anchor="end" textLength="23.91" lengthAdjust="spacingAndGlyphs">10</text>
<text x="65.3" y="545.05" font-size="21" fill="#000" text-anchor="end" textLength="11.95" lengthAdjust="spacingAndGlyphs">5</text>
<text x="65.3" y="595.8" font-size="21" fill="#000" text-anchor="end" textLength="11.95" lengthAdjust="spacingAndGlyphs">0</text>
<text x="578.4" y="667.7" font-size="23.85" fill="#000" text-anchor="middle">Količina padavin (mm) / Možnost padavin (%)</text>
<text x="69" y="693" font-size="19.8" fill="#000" stroke="#000" stroke-width="0.22" text-anchor="middle" textLength="26.61" lengthAdjust="spacingAndGlyphs">tor</text>
<text x="147.85" y="693" font-size="19.8" fill="#000" stroke="#000" stroke-width="0.22" text-anchor="middle" textLength="28.69" lengthAdjust="spacingAndGlyphs">sre</text>
<text x="226.69" y="693" font-size="19.8" fill="#000" stroke="#000" stroke-width="0.22" text-anchor="middle" textLength="29.27" lengthAdjust="spacingAndGlyphs">čet</text>
<text x="305.54" y="693" font-size="19.8" fill="#000" stroke="#000" stroke-width="0.22" text-anchor="middle" textLength="30.88" lengthAdjust="spacingAndGlyphs">pet</text>
<text x="384.38" y="693" font-size="19.8" fill="#000" stroke="#000" stroke-width="0.22" text-anchor="middle" textLength="33.23" lengthAdjust="spacingAndGlyphs">sob</text>
<text x="463.23" y="693" font-size="19.8" fill="#000" stroke="#000" stroke-width="0.22" text-anchor="middle" textLength="35.41" lengthAdjust="spacingAndGlyphs">ned</text>
<text x="542.08" y="693" font-size="19.8" fill="#000" stroke="#000" stroke-width="0.22" text-anchor="middle" textLength="35.34" lengthAdjust="spacingAndGlyphs">pon</text>
<text x="620.92" y="693" font-size="19.8" fill="#000" stroke="#000" stroke-width="0.22" text-anchor="middle" textLength="26.61" lengthAdjust="spacingAndGlyphs">tor</text>
<text x="699.77" y="693" font-size="19.8" fill="#000" stroke="#000" stroke-width="0.22" text-anchor="middle" textLength="28.69" lengthAdjust="spacingAndGlyphs">sre</text>
<text x="778.62" y="693" font-size="19.8" fill="#000" stroke="#000" stroke-width="0.22" text-anchor="middle" textLength="29.27" lengthAdjust="spacingAndGlyphs">čet</text>
<text x="857.46" y="693" font-size="19.8" fill="#000" stroke="#000" stroke-width="0.22" text-anchor="middle" textLength="30.88" lengthAdjust="spacingAndGlyphs">pet</text>
<text x="936.31" y="693" font-size="19.8" fill="#000" stroke="#000" stroke-width="0.22" text-anchor="middle" textLength="33.23" lengthAdjust="spacingAndGlyphs">sob</text>
<text x="1015.15" y="693" font-size="19.8" fill="#000" stroke="#000" stroke-width="0.22" text-anchor="middle" textLength="35.41" lengthAdjust="spacingAndGlyphs">ned</text>
<text x="1094" y="693" font-size="19.8" fill="#000" stroke="#000" stroke-width="0.22" text-anchor="middle" textLength="35.34" lengthAdjust="spacingAndGlyphs">pon</text>
<line x1="69.5" y1="728" x2="1094" y2="728" stroke="#000" stroke-opacity="0.16" stroke-width="2"/><line x1="69.5" y1="770" x2="1094" y2="770" stroke="#000" stroke-opacity="0.16" stroke-width="2"/><line x1="69.5" y1="812" x2="1094" y2="812" stroke="#000" stroke-opacity="0.16" stroke-width="2"/><line x1="69.5" y1="855" x2="1094" y2="855" stroke="#000" stroke-opacity="0.16" stroke-width="2"/><line x1="227" y1="700.5" x2="227" y2="897" stroke="#000" stroke-opacity="0.16" stroke-width="2"/><line x1="384" y1="700.5" x2="384" y2="897" stroke="#000" stroke-opacity="0.16" stroke-width="2"/><line x1="542" y1="700.5" x2="542" y2="897" stroke="#000" stroke-opacity="0.16" stroke-width="2"/><line x1="700" y1="700.5" x2="700" y2="897" stroke="#000" stroke-opacity="0.16" stroke-width="2"/><line x1="857" y1="700.5" x2="857" y2="897" stroke="#000" stroke-opacity="0.16" stroke-width="2"/><line x1="1015" y1="700.5" x2="1015" y2="897" stroke="#000" stroke-opacity="0.16" stroke-width="2"/>
<g clip-path="url(#cp2)">
<rect x="59" y="895.8" width="20" height="1.2" fill="#444"/>
<rect x="137.85" y="895.8" width="20" height="1.2" fill="#444"/>
<rect x="216.69" y="895.8" width="20" height="1.2" fill="#444"/>
<rect x="295.54" y="895.8" width="20" height="1.2" fill="#444"/>
<rect x="374.38" y="895.8" width="20" height="1.2" fill="#444"/>
<rect x="453.23" y="895.8" width="20" height="1.2" fill="#444"/>
<rect x="532.08" y="895.8" width="20" height="1.2" fill="#444"/>
<rect x="610.92" y="895.8" width="20" height="1.2" fill="#444"/>
<rect x="689.77" y="895.8" width="20" height="1.2" fill="#444"/>
<rect x="768.62" y="895.8" width="20" height="1.2" fill="#444"/>
<rect x="831.16" y="893.9" width="52.6" height="3.1" fill="#0050ff"/>
<rect x="910.01" y="820.1" width="52.6" height="76.9" fill="#0050ff"/>
<rect x="988.85" y="830.9" width="52.6" height="66.1" fill="#0050ff"/>
<rect x="1067.7" y="830.9" width="52.6" height="66.1" fill="#0050ff"/>
<line x1="858.36" y1="749.3" x2="858.36" y2="897" stroke="#808080" stroke-width="3"/>
<line x1="848.36" y1="749.3" x2="868.36" y2="749.3" stroke="#808080" stroke-width="3"/>
<line x1="937.21" y1="717.4" x2="937.21" y2="897" stroke="#808080" stroke-width="3"/>
<line x1="927.21" y1="717.4" x2="947.21" y2="717.4" stroke="#808080" stroke-width="3"/>
<line x1="1016.05" y1="726.2" x2="1016.05" y2="897" stroke="#808080" stroke-width="3"/>
<line x1="1006.05" y1="726.2" x2="1026.05" y2="726.2" stroke="#808080" stroke-width="3"/>
<line x1="1093" y1="729.5" x2="1093" y2="897" stroke="#808080" stroke-width="3"/>
<line x1="1083" y1="729.5" x2="1103" y2="729.5" stroke="#808080" stroke-width="3"/>
</g>
<rect x="69.5" y="700.5" width="1025" height="196.5" fill="none" stroke="#222" stroke-width="1.2"/>
<text x="64.6" y="724.9" font-size="21" fill="#000" text-anchor="end" textLength="23.53" lengthAdjust="spacingAndGlyphs">20</text>
<text x="64.6" y="778.7" font-size="21" fill="#000" text-anchor="end" textLength="23.53" lengthAdjust="spacingAndGlyphs">15</text>
<text x="64.6" y="820.7" font-size="21" fill="#000" text-anchor="end" textLength="23.53" lengthAdjust="spacingAndGlyphs">10</text>
<text x="64.6" y="862.7" font-size="21" fill="#000" text-anchor="end" textLength="11.77" lengthAdjust="spacingAndGlyphs">5</text>
<text x="64.6" y="893.3" font-size="21" fill="#000" text-anchor="end" textLength="11.77" lengthAdjust="spacingAndGlyphs">0</text>
<text x="69.5" y="926.6" font-size="24" fill="#5bd0e2" stroke="#5bd0e2" stroke-width="0.22" text-anchor="middle" textLength="37.28" lengthAdjust="spacingAndGlyphs">0%</text>
<text x="148.35" y="926.6" font-size="24" fill="#5bd0e2" stroke="#5bd0e2" stroke-width="0.22" text-anchor="middle" textLength="37.28" lengthAdjust="spacingAndGlyphs">5%</text>
<text x="227.19" y="926.6" font-size="24" fill="#5bd0e2" stroke="#5bd0e2" stroke-width="0.22" text-anchor="middle" textLength="37.28" lengthAdjust="spacingAndGlyphs">0%</text>
<text x="306.04" y="926.6" font-size="24" fill="#5bd0e2" stroke="#5bd0e2" stroke-width="0.22" text-anchor="middle" textLength="37.28" lengthAdjust="spacingAndGlyphs">0%</text>
<text x="384.88" y="926.6" font-size="24" fill="#3a9fd6" stroke="#3a9fd6" stroke-width="0.22" text-anchor="middle" textLength="52.23" lengthAdjust="spacingAndGlyphs">15%</text>
<text x="463.73" y="926.6" font-size="24" fill="#3a9fd6" stroke="#3a9fd6" stroke-width="0.22" text-anchor="middle" textLength="52.23" lengthAdjust="spacingAndGlyphs">25%</text>
<text x="542.58" y="926.6" font-size="24" fill="#3a9fd6" stroke="#3a9fd6" stroke-width="0.22" text-anchor="middle" textLength="52.23" lengthAdjust="spacingAndGlyphs">25%</text>
<text x="621.42" y="926.6" font-size="24" fill="#3a9fd6" stroke="#3a9fd6" stroke-width="0.22" text-anchor="middle" textLength="52.23" lengthAdjust="spacingAndGlyphs">15%</text>
<text x="700.27" y="926.6" font-size="24" fill="#3a9fd6" stroke="#3a9fd6" stroke-width="0.22" text-anchor="middle" textLength="52.23" lengthAdjust="spacingAndGlyphs">20%</text>
<text x="779.12" y="926.6" font-size="24" fill="#3a9fd6" stroke="#3a9fd6" stroke-width="0.22" text-anchor="middle" textLength="52.23" lengthAdjust="spacingAndGlyphs">40%</text>
<text x="857.96" y="926.6" font-size="24" fill="#3a9fd6" stroke="#3a9fd6" stroke-width="0.22" text-anchor="middle" textLength="52.23" lengthAdjust="spacingAndGlyphs">45%</text>
<text x="936.81" y="926.6" font-size="24" fill="#1a62b6" stroke="#1a62b6" stroke-width="0.22" text-anchor="middle" textLength="52.23" lengthAdjust="spacingAndGlyphs">60%</text>
<text x="1015.65" y="926.6" font-size="24" fill="#1a62b6" stroke="#1a62b6" stroke-width="0.22" text-anchor="middle" textLength="52.23" lengthAdjust="spacingAndGlyphs">60%</text>
<text x="1094.5" y="926.6" font-size="24" fill="#1a62b6" stroke="#1a62b6" stroke-width="0.22" text-anchor="middle" textLength="52.23" lengthAdjust="spacingAndGlyphs">60%</text>
</svg></body></html>
